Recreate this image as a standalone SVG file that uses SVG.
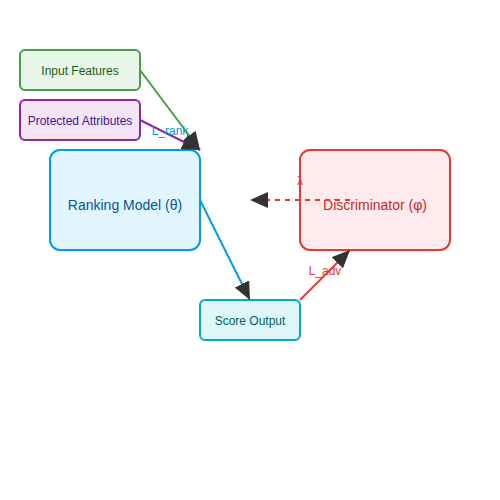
<svg xmlns="http://www.w3.org/2000/svg" width="500" height="500" viewBox="0 0 500 500">
<defs>
<marker id="arr" viewBox="0 0 10 10" refX="10" refY="5" markerWidth="9" markerHeight="8" markerUnits="strokeWidth" orient="auto" preserveAspectRatio="none">
<path d="M0,0 L10,5 L0,10 z" fill="#333"/>
</marker>
<style>
text{font-family:"Liberation Sans",Arial,sans-serif;text-anchor:middle;dominant-baseline:central}
.s{font-size:12px}
.l{font-size:14px}
.c{fill:none;stroke-width:2;marker-end:url(#arr)}
</style>
</defs>
<rect width="500" height="500" fill="#fff"/>
<g id="input">
<rect x="20" y="50" width="120" height="40" rx="5" fill="#e8f5e9" stroke="#43a047" stroke-width="2"/>
<text class="s" x="80" y="71" fill="#1b5e20">Input Features</text>
</g>
<g id="protected">
<rect x="20" y="100" width="120" height="40" rx="5" fill="#f3e5f5" stroke="#8e24aa" stroke-width="2"/>
<text class="s" x="80" y="121" fill="#4a148c">Protected Attributes</text>
</g>
<g id="ranking">
<rect x="50" y="150" width="150" height="100" rx="10" fill="#e1f5fe" stroke="#039be5" stroke-width="2"/>
<text class="l" x="125" y="205" fill="#01579b">Ranking Model (θ)</text>
</g>
<g id="discriminator">
<rect x="300" y="150" width="150" height="100" rx="10" fill="#ffebee" stroke="#e53935" stroke-width="2"/>
<text class="l" x="375" y="205" fill="#c62828">Discriminator (φ)</text>
</g>
<g id="score">
<rect x="200" y="300" width="100" height="40" rx="5" fill="#e0f7fa" stroke="#00acc1" stroke-width="2"/>
<text class="s" x="250" y="321" fill="#006064">Score Output</text>
</g>
<g id="connectors">
<line class="c" x1="140" y1="70" x2="200" y2="150" stroke="#43a047"/>
<line class="c" x1="140" y1="120" x2="200" y2="150" stroke="#8e24aa"/>
<line class="c" x1="200" y1="200" x2="250" y2="300" stroke="#039be5"/>
<line class="c" x1="300" y1="300" x2="350" y2="250" stroke="#e53935"/>
<line class="c" x1="350" y1="200" x2="250" y2="200" stroke="#e53935" stroke-dasharray="5,5"/>
<text class="s" x="170" y="131" fill="#039be5">L_rank</text>
<text class="s" x="325" y="271" fill="#e53935">L_adv</text>
<text class="s" x="300" y="181" fill="#e53935">λ</text>
</g>
</svg>
